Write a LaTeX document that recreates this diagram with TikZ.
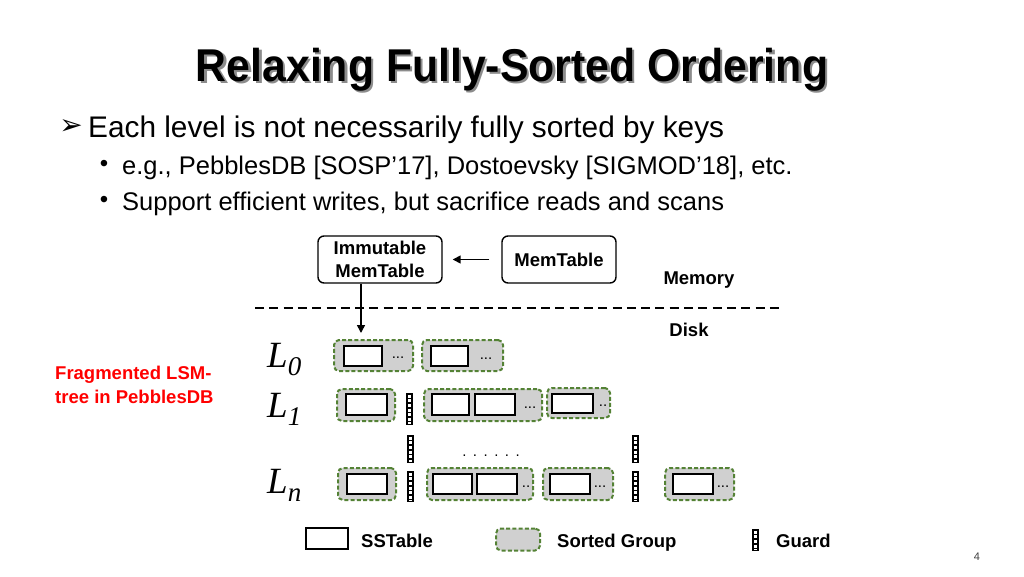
\documentclass[tikz,border=0pt]{standalone}
\usepackage{fontspec}
\setmainfont{Liberation Sans}
\newfontfamily\serifit{Liberation Serif}
\newfontfamily\djv{DejaVu Sans}
\usetikzlibrary{arrows.meta}
\definecolor{grpgreen}{HTML}{548235}
\definecolor{grpfill}{HTML}{D0D0D0}
\definecolor{myred}{HTML}{FF0000}
\newcommand\fs[1]{\fontsize{#1}{#1}\selectfont}
\newcommand\Lsub[1]{{\serifit\itshape\fs{37}L}\raisebox{-8pt}{\serifit\itshape\fs{27}#1}}
\newcommand\ttltext{\scalebox{0.93}[1]{\bfseries\fs{46}Relaxing Fully-Sorted Ordering}}
\begin{document}
\begin{tikzpicture}[x=1pt,y=-1pt,
  membox/.style={draw, line width=1.4pt, rounded corners=6pt, inner sep=0pt, align=center, font=\bfseries\fs{18.5}},
  sst/.style={draw, line width=2.3pt, fill=white, inner sep=0pt},
  grp/.style={draw=grpgreen, fill=grpfill, line width=2pt, dash pattern=on 4pt off 2.2pt, rounded corners=5pt, inner sep=0pt},
  gbar/.style={fill=black, inner sep=0pt, minimum width=7pt},
  lbl/.style={font=\bfseries\fs{18.5}, inner sep=0pt},
  arr/.style={line width=1.5pt, -{Triangle[length=8pt,width=8pt]}},
  dotsl/.style={font=\fs{15}, inner sep=0pt}
]
\useasboundingbox (0,0) rectangle (1024,576);
\newcommand\myguard[4]{%
  \node[gbar, minimum height=#4-#3] (#1) at (#2,{(#3+#4)/2}) {};
  \draw[white, line width=3pt, dash pattern=on 3pt off 1.6pt] (#2,#3+1.8) -- (#2,#4-1.2);}

% title (with its drop shadow in the same node)
\node[inner sep=0pt, anchor=base] (title) at (512,81) {\rlap{\hspace{2.5pt}\raisebox{-2.5pt}{\color{black!45}\ttltext}}\ttltext};

% bullets
\node[inner sep=0pt] (b0) at (71,127) {\djv\fs{28}➢};
\node[inner sep=0pt, anchor=base west] (t0) at (88,137) {\fs{29.8}Each level is not necessarily fully sorted by keys};
\node[inner sep=0pt] (b1) at (104,166) {\fs{24}•};
\node[inner sep=0pt, anchor=base west] (t1) at (122,174) {\fs{25.5}e.g., PebblesDB [SOSP’17], Dostoevsky [SIGMOD’18], etc.};
\node[inner sep=0pt] (b2) at (104,202) {\fs{24}•};
\node[inner sep=0pt, anchor=base west] (t2) at (122,210) {\fs{25.5}Support efficient writes, but sacrifice reads and scans};

% memory part
\node[membox, minimum width=124pt, minimum height=47pt] (imm) at (380,259.5) {Immutable\\[4pt]MemTable};
\node[membox, minimum width=114pt, minimum height=47pt] (mem) at (559,259.5) {MemTable};
\draw[arr, shorten <=12pt, shorten >=10pt] (mem.west) -- (imm.east);
\node[lbl] (memory) at (699,280) {Memory};
\coordinate (dl) at (255,308);
\coordinate (dr) at (783,308);
\draw[line width=2pt, dash pattern=on 9pt off 5.3pt] (dl) -- (dr);
\node[lbl] (disk) at (689,330) {Disk};
\coordinate (d1) at (361,333);
\draw[arr] (imm.south -| d1) -- (d1);

% red label
\node[inner sep=0pt, anchor=north west, align=left, text=myred, font=\bfseries\fs{18.5}] (frag) at (55,366) {Fragmented LSM-\\[5.5pt]tree in PebblesDB};

% level labels
\node[inner sep=0pt, anchor=base west] (L0) at (267,367) {\Lsub{0}};
\node[inner sep=0pt, anchor=base west] (L1) at (267,417) {\Lsub{1}};
\node[inner sep=0pt, anchor=base west] (Ln) at (267,493) {\Lsub{n}};

% L0 row
\node[grp, minimum width=79pt, minimum height=31pt] (g01) at (373.5,355.5) {};
\node[sst, minimum width=38pt, minimum height=20pt] (s01) at (363,356) {};
\node[dotsl] (d01) at (398,358) {...};
\node[grp, minimum width=81pt, minimum height=31pt] (g02) at (462.5,355.5) {};
\node[sst, minimum width=37pt, minimum height=20pt] (s02) at (449.5,356) {};
\node[dotsl] (d02) at (486,359) {...};

% L1 row
\node[grp, minimum width=58pt, minimum height=32pt] (g11) at (366,405) {};
\node[sst, minimum width=41pt, minimum height=21pt] (s11) at (366.5,404.5) {};
\myguard{gu11}{409.5}{393}{425}
\node[grp, minimum width=118pt, minimum height=32pt] (g12) at (483,405) {};
\node[sst, minimum width=37pt, minimum height=21pt] (s12) at (450.5,404.5) {};
\node[sst, minimum width=40pt, minimum height=21pt] (s13) at (495,404.5) {};
\node[dotsl] (d12) at (530,408) {...};
\node[grp, minimum width=63pt, minimum height=30pt] (g13) at (578.5,403) {};
\node[sst, minimum width=41pt, minimum height=19pt] (s14) at (572.5,403.5) {};
\node[dotsl] (d13) at (603,406) {..};

% middle guards / dots
\myguard{gu21}{410}{435}{463}
\myguard{gu22}{635}{435}{463}
\node[font=\fs{15}, inner sep=0pt] (mdots) at (491,456) {.\hspace{6.5pt}.\hspace{6.5pt}.\hspace{6.5pt}.\hspace{6.5pt}.\hspace{6.5pt}.};

% Ln row
\node[grp, minimum width=58pt, minimum height=32pt] (gn1) at (367,484) {};
\node[sst, minimum width=40pt, minimum height=20pt] (sn1) at (367,484) {};
\myguard{gu31}{410}{471}{502}
\node[grp, minimum width=106pt, minimum height=32pt] (gn2) at (480,484) {};
\node[sst, minimum width=39pt, minimum height=20pt] (sn2) at (452.5,484) {};
\node[sst, minimum width=40pt, minimum height=20pt] (sn3) at (497,484) {};
\node[dotsl] (dn2) at (526,487) {..};
\node[grp, minimum width=70pt, minimum height=32pt] (gn3) at (578,484) {};
\node[sst, minimum width=40pt, minimum height=20pt] (sn4) at (570,484) {};
\node[dotsl] (dn3) at (600,487) {...};
\myguard{gu32}{635}{471}{502}
\node[grp, minimum width=69pt, minimum height=32pt] (gn4) at (699.5,484) {};
\node[sst, minimum width=40pt, minimum height=20pt] (sn5) at (693,484) {};
\node[dotsl] (dn4) at (723,487) {...};

% legend
\node[sst, line width=2pt, minimum width=42pt, minimum height=21pt] (lsst) at (327,538.5) {};
\node[lbl, anchor=base west] (lssttxt) at (361,547.5) {SSTable};
\node[grp, minimum width=44pt, minimum height=22pt] (lgrp) at (518,539.5) {};
\node[lbl, anchor=base west] (lgrptxt) at (557,547.5) {Sorted Group};
\myguard{lguard}{755.5}{529}{551}
\node[lbl, anchor=base west] (lguardtxt) at (776,547.5) {Guard};

% page number
\node[inner sep=0pt, font=\fs{11}, text=black!75] (pnum) at (977,557) {4};
\end{tikzpicture}
\end{document}
